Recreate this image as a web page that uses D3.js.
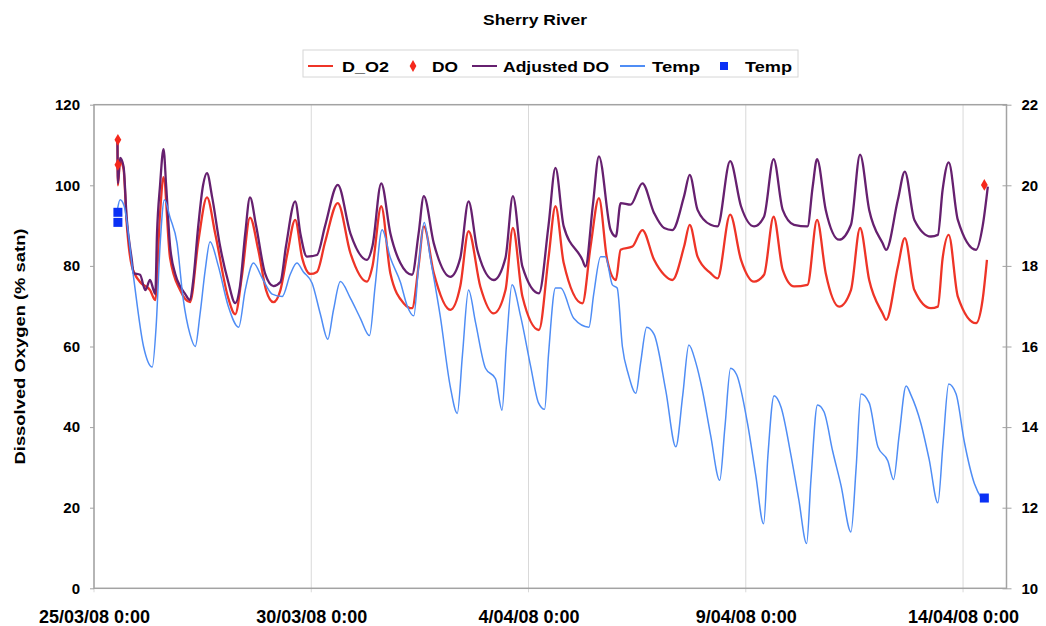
<!DOCTYPE html>
<html>
<head>
<meta charset="utf-8">
<script src="https://cdnjs.cloudflare.com/ajax/libs/d3/7.8.5/d3.min.js"></script>
<style>
    body { margin: 0; background: #ffffff; }
    text { font-family: "Liberation Sans", Arial, sans-serif; font-weight: bold; fill: #000000; }
</style>
</head>
<body>
<svg id="chart" width="1046" height="626"></svg>
<script>
// time in days after 25/03/08 0:00
const START = Date.UTC(2008, 2, 25);
const END = Date.UTC(2008, 3, 15);
const DAY_MS = 864e5;

const tickDates = ["2008-03-25", "2008-03-30", "2008-04-04", "2008-04-09", "2008-04-14"];
const doTicks = [0, 20, 40, 60, 80, 100, 120];
const tempTicks = [10, 12, 14, 16, 18, 20, 22];

// D_O2 (% satn)
const dO2 = [
    [0.54,111],[0.55,100],[0.60,106],[0.68,104],[0.75,91],[0.87,80],[1.06,76],[1.29,74],[1.41,71.5],[1.52,93],
    [1.60,102],[1.75,82],[1.98,74],[2.21,71],[2.40,86],[2.60,97],[2.79,88],[3.09,72],[3.25,68],[3.41,78],
    [3.59,92],[3.78,84],[3.96,74],[4.13,71],[4.29,74],[4.45,83],[4.63,91.4],[4.79,82],[4.98,78],[5.13,78.5],
    [5.32,86],[5.61,95.6],[5.90,83.2],[6.28,76.1],[6.41,80],[6.61,94.8],[6.82,78.2],[7.13,70.7],[7.32,69.5],[7.47,80],
    [7.59,89.8],[7.82,78.2],[8.20,69.1],[8.43,75],[8.62,88.6],[8.89,74.9],[9.20,68.2],[9.47,74],[9.64,89.4],[9.86,72.4],
    [10.24,64.1],[10.46,82],[10.62,94.8],[10.81,80.7],[11.24,70.7],[11.43,85],[11.62,96.8],[11.81,81.5],[12.01,76.5],[12.12,84],
    [12.39,84.8],[12.62,88.9],[12.89,81.5],[13.12,77.8],[13.31,76.5],[13.58,84.8],[13.71,90.2],[13.89,82.3],[14.19,78.2],[14.35,76.9],
    [14.64,92.7],[14.89,81.5],[15.19,76.1],[15.42,77.8],[15.64,92.2],[15.85,79],[16.11,74.9],[16.42,75.3],[16.64,91.4],[16.84,78.2],
    [17.15,69.9],[17.42,74],[17.63,89.4],[17.84,76.5],[18.15,68.2],[18.23,66.6],[18.50,79.8],[18.66,86.9],[18.88,74],[19.26,69.5],
    [19.42,69.9],[19.53,81.9],[19.67,87.7],[19.88,72.4],[20.30,65.8],[20.45,71.6],[20.55,81.5]
];

// Adjusted DO (% satn)
const adjustedDO = [
    [0.54,111],[0.55,100.5],[0.60,106.8],[0.68,104.7],[0.75,92.2],[0.87,81.5],[0.91,78.2],[1.06,77.8],[1.18,74],[1.29,76.5],
    [1.37,74],[1.41,73],[1.45,88],[1.52,100],[1.60,109],[1.66,100],[1.75,85],[1.87,78],[1.98,75],[2.10,73],
    [2.21,71.5],[2.28,76],[2.40,90],[2.51,100],[2.60,103],[2.72,97],[2.90,85],[3.09,76],[3.25,70.8],[3.36,75],
    [3.48,88],[3.59,97],[3.73,90],[3.94,78],[4.13,75],[4.29,76],[4.42,85],[4.63,96],[4.75,88],[4.90,82.3],
    [5.13,82.7],[5.32,90],[5.61,100.1],[5.90,88.1],[6.28,81.5],[6.41,85],[6.61,100.5],[6.82,88.1],[7.05,80.7],[7.32,77.8],
    [7.47,88],[7.59,97.3],[7.82,85.6],[8.20,77.3],[8.43,82],[8.62,96],[8.82,84],[9.20,76.5],[9.47,82],[9.64,97.3],
    [9.86,79.8],[10.24,73.2],[10.46,90],[10.62,104.3],[10.81,89.8],[11.24,81.5],[11.31,79.8],[11.48,95],[11.62,107.2],[11.89,88.9],
    [12.01,87.3],[12.12,95.6],[12.35,95.2],[12.62,100.5],[12.89,93.1],[13.12,89.4],[13.31,88.9],[13.58,97.3],[13.71,102.6],[13.89,93.9],
    [14.19,90.2],[14.35,89.8],[14.64,106],[14.89,94.8],[15.19,89.8],[15.42,92.2],[15.64,106.5],[15.85,93.9],[16.11,90.2],[16.42,89.8],
    [16.54,99.7],[16.64,106.5],[16.84,93.9],[17.15,86.5],[17.42,90.2],[17.63,107.6],[17.84,93.9],[18.15,85.6],[18.23,84],[18.50,96.4],
    [18.66,103.4],[18.88,91.4],[19.26,87.3],[19.42,87.7],[19.53,98.9],[19.67,105.7],[19.88,91.4],[20.30,84],[20.45,89.8],[20.57,99.7]
];

// Temp (deg C)
const temp = [
    [0.54,19.4],[0.60,19.64],[0.69,19.5],[0.90,17.8],[1.14,16.0],[1.34,15.49],[1.43,16.5],[1.52,18.5],[1.62,19.64],[1.75,19.2],
    [1.91,18.57],[2.05,17.2],[2.21,16.3],[2.33,16.0],[2.44,16.8],[2.56,17.9],[2.67,18.6],[2.86,18.0],[3.09,17.0],[3.33,16.48],
    [3.48,17.4],[3.67,18.07],[3.87,17.7],[4.10,17.3],[4.33,17.24],[4.52,17.8],[4.67,18.07],[4.82,17.85],[5.02,17.57],[5.21,16.8],
    [5.38,16.18],[5.51,16.9],[5.67,17.61],[5.90,17.2],[6.13,16.7],[6.34,16.27],[6.47,17.5],[6.63,18.9],[6.82,18.2],[7.05,17.6],
    [7.21,17.0],[7.36,16.76],[7.47,18],[7.60,19.08],[7.74,18.2],[7.97,16.74],[8.20,15.0],[8.36,14.34],[8.48,15.8],[8.62,17.4],
    [8.78,16.6],[9.01,15.46],[9.24,15.2],[9.39,14.42],[9.49,16.0],[9.62,17.53],[9.82,16.74],[10.05,15.5],[10.23,14.6],[10.37,14.44],
    [10.46,15.8],[10.62,17.45],[10.74,17.45],[11.04,16.7],[11.39,16.48],[11.50,17.3],[11.66,18.23],[11.77,18.23],[11.93,17.53],[12.04,17.45],
    [12.16,16.0],[12.30,15.3],[12.47,14.84],[12.58,15.6],[12.72,16.48],[12.89,16.3],[13.16,14.9],[13.39,13.51],[13.55,14.8],[13.69,16.04],
    [13.85,15.6],[14.00,14.92],[14.19,13.8],[14.40,12.68],[14.52,14.0],[14.65,15.46],[14.79,15.3],[15.04,14.09],[15.23,12.8],[15.41,11.6],
    [15.51,13.3],[15.65,14.78],[15.81,14.5],[16.04,13.3],[16.22,12.2],[16.40,11.11],[16.50,12.7],[16.65,14.55],[16.80,14.38],[17.00,13.4],
    [17.19,12.56],[17.42,11.4],[17.54,13.0],[17.65,14.82],[17.84,14.6],[18.04,13.51],[18.27,13.16],[18.40,12.7],[18.53,13.8],[18.69,15.02],
    [18.80,14.8],[19.03,14.09],[19.22,13.2],[19.42,12.12],[19.54,13.6],[19.67,15.07],[19.84,14.82],[20.03,13.63],[20.26,12.6],[20.45,12.19]
];

// spot measurements
const doPoints = [[0.55,111.3],[0.55,105.1],[20.49,100.1]];
const tempPoints = [[0.55,19.33],[0.55,19.08],[20.49,12.24]];

const RED = "#ee3427";
const PURPLE = "#66206f";
const BLUE = "#4f8df5";
const MARK_RED = "#f5281c";
const MARK_BLUE = "#0a30f5";

const svg = d3.select("#chart");
const plot = { left: 94, right: 1006.5, top: 104.7, bottom: 588.3 };

const toDate = (d) => new Date(START + d * DAY_MS);

const x = d3.scaleUtc()
    .domain([new Date(START), new Date(END)])
    .range([plot.left, plot.right]);
const yL = d3.scaleLinear().domain([0, 120]).range([plot.bottom, plot.top]);
const yR = d3.scaleLinear().domain([10, 22]).range([plot.bottom, plot.top]);

// title
svg.append("text")
    .attr("x", 483).attr("y", 25)
    .attr("textLength", 104).attr("lengthAdjust", "spacingAndGlyphs")
    .style("font-size", "14px")
    .text("Sherry River");

// vertical grid lines
svg.append("g")
    .selectAll("line")
    .data(tickDates.map((s) => new Date(s + "T00:00:00Z")))
    .join("line")
    .attr("x1", (d) => x(d)).attr("x2", (d) => x(d))
    .attr("y1", plot.top).attr("y2", plot.bottom + 4)
    .attr("stroke", "#d9d9d9")
    .attr("stroke-width", 1);

const lineDO = d3.line()
    .curve(d3.curveMonotoneX)
    .x((d) => x(toDate(d[0])))
    .y((d) => yL(d[1]));
const lineTemp = d3.line()
    .curve(d3.curveMonotoneX)
    .x((d) => x(toDate(d[0])))
    .y((d) => yR(d[1]));

svg.append("path").datum(dO2)
    .attr("d", lineDO)
    .attr("fill", "none").attr("stroke", RED).attr("stroke-width", 2.3).attr("stroke-linejoin", "round");
svg.append("path").datum(adjustedDO)
    .attr("d", lineDO)
    .attr("fill", "none").attr("stroke", PURPLE).attr("stroke-width", 2.3).attr("stroke-linejoin", "round");
svg.append("path").datum(temp)
    .attr("d", lineTemp)
    .attr("fill", "none").attr("stroke", BLUE).attr("stroke-width", 1.5);

svg.append("g")
    .selectAll("path")
    .data(doPoints)
    .join("path")
    .attr("transform", (d) => `translate(${x(toDate(d[0]))},${yL(d[1])})`)
    .attr("d", d3.symbol(d3.symbolDiamond, 40))
    .attr("fill", MARK_RED);

svg.append("g")
    .selectAll("rect")
    .data(tempPoints)
    .join("rect")
    .attr("x", (d) => x(toDate(d[0])) - 4.5)
    .attr("y", (d) => yR(d[1]) - 4.5)
    .attr("width", 9).attr("height", 9)
    .attr("fill", MARK_BLUE);

// plot frame
svg.append("rect")
    .attr("x", plot.left).attr("y", plot.top)
    .attr("width", plot.right - plot.left).attr("height", plot.bottom - plot.top)
    .attr("fill", "none").attr("stroke", "#a3a3a3").attr("stroke-width", 1.5);

// axes
const styleAxis = (g) => {
    g.select(".domain").remove();
    g.selectAll(".tick line").attr("stroke", "#a3a3a3");
    g.selectAll(".tick text").attr("fill", "#000").style("font-family", "'Liberation Sans', Arial, sans-serif").style("font-weight", "bold");
};

svg.append("g")
    .attr("transform", `translate(${plot.left},0)`)
    .call(d3.axisLeft(yL).tickValues(doTicks).tickSize(4).tickPadding(10))
    .call(styleAxis)
    .call((g) => g.selectAll(".tick text").style("font-size", "15px"));

svg.append("g")
    .attr("transform", `translate(${plot.right},0)`)
    .call(d3.axisRight(yR).tickValues(tempTicks).tickSize(5).tickPadding(10))
    .call(styleAxis)
    .call((g) => g.selectAll(".tick line").attr("x1", -4))
    .call((g) => g.selectAll(".tick text").style("font-size", "15px"));

const fmtDate = d3.utcFormat("%-d/%m/%y %-H:%M");
svg.append("g")
    .attr("transform", `translate(0,${plot.bottom})`)
    .call(d3.axisBottom(x)
        .tickValues(tickDates.map((s) => new Date(s + "T00:00:00Z")))
        .tickFormat(fmtDate)
        .tickSize(4).tickPadding(18))
    .call(styleAxis)
    .call((g) => g.selectAll(".tick line").remove())
    .call((g) => g.selectAll(".tick text").style("font-size", "18px"));

// y axis title
svg.append("text")
    .attr("transform", "translate(19,346.5) rotate(-90)")
    .attr("text-anchor", "middle")
    .attr("dominant-baseline", "central")
    .attr("textLength", 236).attr("lengthAdjust", "spacingAndGlyphs")
    .style("font-size", "15px")
    .text("Dissolved Oxygen (% satn)");

// legend
const legend = svg.append("g");
legend.append("rect")
    .attr("x", 303).attr("y", 50).attr("width", 495).attr("height", 27)
    .attr("fill", "#fff").attr("stroke", "#d6d6d6");

const legendItems = [
    { label: "D_O2", kind: "line", color: RED, sx: 308, tx: 342, tw: 47 },
    { label: "DO", kind: "diamond", color: MARK_RED, sx: 413, tx: 432, tw: 26 },
    { label: "Adjusted DO", kind: "line", color: PURPLE, sx: 472, tx: 503, tw: 106 },
    { label: "Temp", kind: "line", color: BLUE, sx: 620, tx: 652, tw: 48 },
    { label: "Temp", kind: "square", color: MARK_BLUE, sx: 724, tx: 745, tw: 47 }
];

legendItems.forEach((d) => {
    if (d.kind === "line") {
        legend.append("line")
            .attr("x1", d.sx).attr("x2", d.sx + 25)
            .attr("y1", 66).attr("y2", 66)
            .attr("stroke", d.color).attr("stroke-width", 2);
    } else if (d.kind === "diamond") {
        legend.append("path")
            .attr("transform", `translate(${d.sx},66)`)
            .attr("d", d3.symbol(d3.symbolDiamond, 40))
            .attr("fill", d.color);
    } else {
        legend.append("rect")
            .attr("x", d.sx - 4).attr("y", 62)
            .attr("width", 8).attr("height", 8)
            .attr("fill", d.color);
    }
    legend.append("text")
        .attr("x", d.tx).attr("y", 71.5)
        .attr("textLength", d.tw).attr("lengthAdjust", "spacingAndGlyphs")
        .style("font-size", "15px")
        .text(d.label);
});
</script>
</body>
</html>
